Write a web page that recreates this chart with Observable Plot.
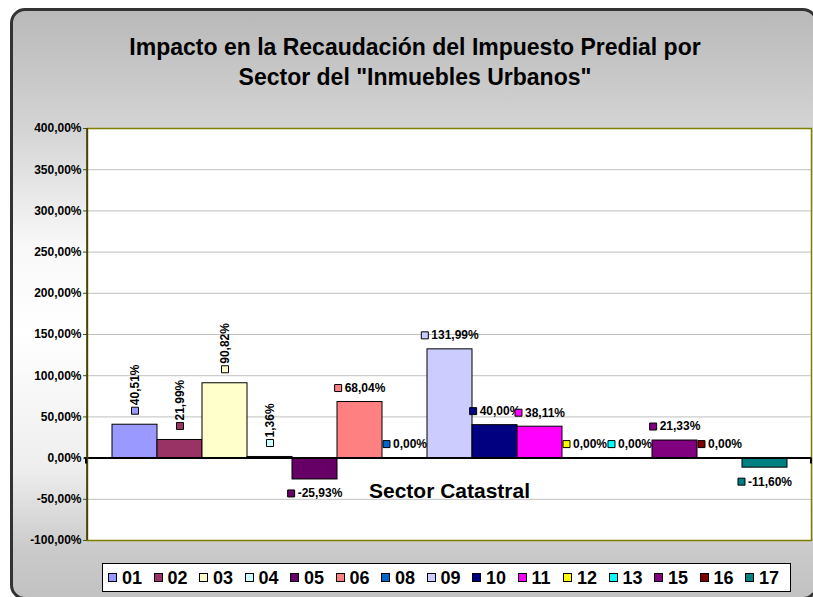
<!DOCTYPE html>
<html>
<head>
<meta charset="utf-8">
<script src="https://cdn.jsdelivr.net/npm/d3@7"></script>
<script src="https://cdn.jsdelivr.net/npm/@observablehq/plot@0.6"></script>
<style>
html, body { margin: 0; padding: 0; overflow: hidden; background: #fff; font-family: "Liberation Sans", Arial, sans-serif; }
#wrap { position: relative; width: 813px; height: 597px; overflow: hidden; }
#bg { position: absolute; left: 10px; top: 8px; width: 808px; height: 592px; box-sizing: border-box;
  border: 3px solid #333; border-radius: 15px;
  background: linear-gradient(to bottom, #b9b9b9 0%, #d4d4d4 20%, #f8f8f8 40%, #ffffff 55%, #eeeeee 78%, #cacaca 92%, #c2c2c2 100%); }
#chart { position: absolute; left: 0; top: 0; }
#title { position: absolute; left: 10px; width: 810px; top: 32px; text-align: center; font-weight: bold; font-size: 23px; line-height: 30px; color: #000; }
#legend { position: absolute; left: 102px; top: 563px; width: 689px; height: 29px; box-sizing: border-box; border: 1px solid #000; background: #fff;
  display: flex; align-items: center; padding-left: 5px; }
.item { flex: none; width: 45.5px; display: flex; align-items: center; }
.sw { width: 9px; height: 9px; box-sizing: border-box; border: 1px solid #000; margin-right: 5px; flex: none; }
.lb { font-size: 18px; font-weight: bold; line-height: 1; color: #000; }
</style>
</head>
<body>
<div id="wrap">
<div id="bg"></div>
<div id="chart"></div>
<div id="title">Impacto en la Recaudación del Impuesto Predial por<br>Sector del "Inmuebles Urbanos"</div>
<div id="legend"></div>
</div>
<script>
// ---- data ----
const sectors = ["01","02","03","04","05","06","08","09","10","11","12","13","15","16","17"];
const values  = [40.51, 21.99, 90.82, 1.36, -25.93, 68.04, 0.00, 131.99, 40.00, 38.11, 0.00, 0.00, 21.33, 0.00, -11.60];
const colors  = ["#9999FF","#993366","#FFFFCC","#CCFFFF","#660066","#FF8080","#0066CC","#CCCCFF","#000080","#FF00FF","#FFFF00","#00FFFF","#800080","#800000","#008080"];
const yTicks  = [-100, -50, 0, 50, 100, 150, 200, 250, 300, 350, 400];
const verticalLabelSectors = ["01","02","03","04"];
const axisTitle = "Sector Catastral";

const fmt = v => v.toFixed(2).replace(".", ",") + "%";
const data = sectors.map((s, i) => ({sector: s, value: values[i], color: colors[i], label: fmt(values[i])}));

const ctx = document.createElement("canvas").getContext("2d");
ctx.font = "bold 12px 'Liberation Sans'";

const labelMarks = data.flatMap(d => {
  const dy = d.value < 0 ? 14 : -14;
  if (verticalLabelSectors.includes(d.sector)) {
    return [
      Plot.dot([d], {x: "sector", y: "value", symbol: "square", r: 3.95, fill: "color", stroke: "black", strokeWidth: 1, dy}),
      Plot.text([d], {x: "sector", y: "value", text: "label", rotate: -90, textAnchor: "start", dy: dy - 5.5,
        fontSize: 12, fontWeight: "bold", fill: "black"})
    ];
  }
  const tw = ctx.measureText(d.label).width;
  const W = 7 + 3 + tw;
  return [
    Plot.dot([d], {x: "sector", y: "value", symbol: "square", r: 3.95, fill: "color", stroke: "black", strokeWidth: 1, dy, dx: -W / 2 + 3.5}),
    Plot.text([d], {x: "sector", y: "value", text: "label", textAnchor: "start", dy, dx: -W / 2 + 10,
      fontSize: 12, fontWeight: "bold", fill: "black"})
  ];
});

const plot = Plot.plot({
  width: 813,
  height: 597,
  marginLeft: 87,
  marginRight: 2,
  marginTop: 128,
  marginBottom: 57,
  style: {background: "transparent", fontFamily: "'Liberation Sans', Arial, sans-serif"},
  x: {type: "band", domain: sectors, paddingInner: 0, paddingOuter: 0.49, axis: null},
  y: {domain: [-100, 400], axis: null, label: null},
  color: {type: "identity"},
  marks: [
    Plot.frame({fill: "white", stroke: null}),
    Plot.gridY(yTicks, {stroke: "#c0c0c0", strokeOpacity: 1, strokeWidth: 1}),
    Plot.barY(data, {x: "sector", y: "value", fill: "color", stroke: "black", strokeWidth: 1}),
    Plot.ruleY([0], {stroke: "black", strokeWidth: 2, insetLeft: -3, insetRight: -1}),
    ...labelMarks,
    Plot.axisY(yTicks, {tickFormat: fmt, tickSize: 4, tickPadding: 2, stroke: "#555500", fill: "black",
      fontSize: 12, fontWeight: "bold", label: null}),
    Plot.text([axisTitle], {frameAnchor: "bottom", lineAnchor: "bottom", dy: -43, fontSize: 21, fontWeight: "bold", fill: "black"}),
    Plot.frame({stroke: "#808000", strokeWidth: 1.5})
  ]
});

const svg = d3.select(plot);
const y0 = plot.scale("y").apply(0);
svg.append("line").attr("x1", 87).attr("x2", 87).attr("y1", 128).attr("y2", 540)
  .attr("stroke", "#333300").attr("stroke-width", 1.5);
svg.append("line").attr("x1", 86).attr("x2", 86).attr("y1", y0).attr("y2", y0 + 6).attr("stroke", "#000").attr("stroke-width", 2);
svg.append("line").attr("x1", 811).attr("x2", 811).attr("y1", y0).attr("y2", y0 + 6).attr("stroke", "#000").attr("stroke-width", 2);

document.getElementById("chart").appendChild(plot);

const legend = d3.select("#legend");
data.forEach(d => {
  const it = legend.append("div").attr("class", "item");
  it.append("div").attr("class", "sw").style("background", d.color);
  it.append("div").attr("class", "lb").text(d.sector);
});
</script>
</body>
</html>
